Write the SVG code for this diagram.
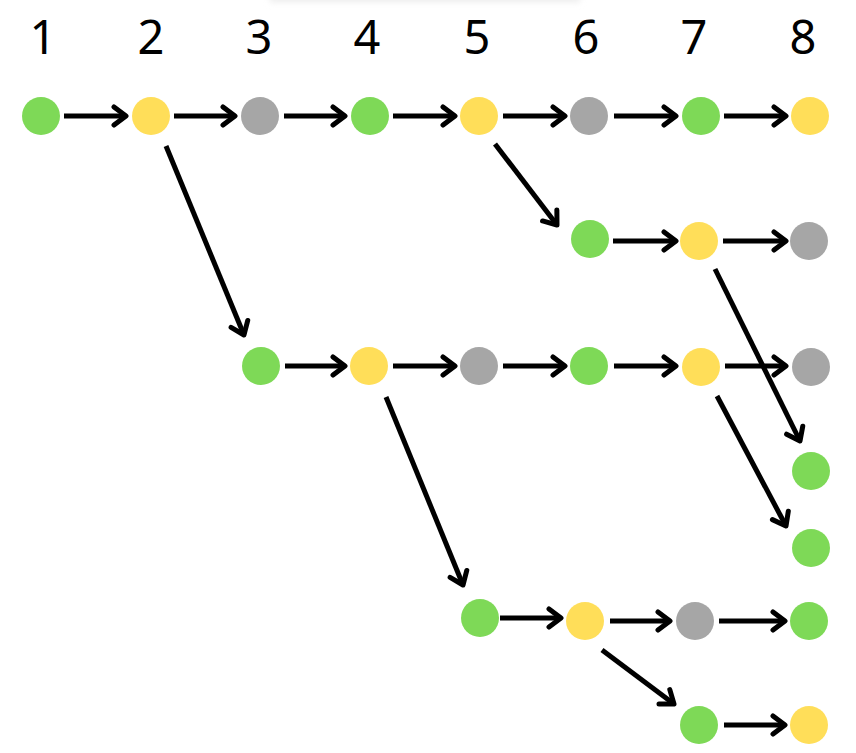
<svg xmlns="http://www.w3.org/2000/svg" width="856" height="753" viewBox="0 0 856 753">
<style>
.g{fill:#7ed957}.y{fill:#ffde59}.k{fill:#a6a6a6}
.lbl{font-family:"Noto Sans","Open Sans",sans-serif;font-size:47px;fill:#000;text-anchor:middle}
.e line{stroke:#000;stroke-width:5;marker-end:url(#ah)}
</style>
<defs>
<marker id="ah" markerUnits="userSpaceOnUse" markerWidth="24" markerHeight="24" viewBox="0 0 24 24" refX="17" refY="12" orient="auto">
<path d="M5,3 L17,12 L5,21" fill="none" stroke="#000" stroke-width="5" stroke-linecap="round" stroke-linejoin="round"/>
</marker>
<filter id="blur" x="-20%" y="-200%" width="140%" height="500%"><feGaussianBlur stdDeviation="3"/></filter>
</defs>
<rect x="0" y="0" width="856" height="753" fill="#fff"/>
<rect x="270" y="-10" width="310" height="12" fill="#ececec" filter="url(#blur)"/>
<g id="labels">
<text class="lbl" x="43" y="54">1</text>
<text class="lbl" x="151" y="54">2</text>
<text class="lbl" x="259" y="54">3</text>
<text class="lbl" x="367" y="54">4</text>
<text class="lbl" x="477" y="54">5</text>
<text class="lbl" x="586" y="54">6</text>
<text class="lbl" x="694" y="54">7</text>
<text class="lbl" x="803" y="54">8</text>
</g>
<g id="connectors" class="e">
<line x1="64" y1="116" x2="126" y2="116"/>
<line x1="174" y1="116" x2="235" y2="116"/>
<line x1="284" y1="116" x2="345" y2="116"/>
<line x1="393" y1="116" x2="455" y2="116"/>
<line x1="503" y1="116" x2="565" y2="116"/>
<line x1="614" y1="116" x2="676" y2="116"/>
<line x1="724" y1="116" x2="786" y2="116"/>
<line x1="166" y1="146" x2="244" y2="335"/>
<line x1="495" y1="144" x2="557" y2="225"/>
<line x1="613" y1="241" x2="676" y2="241"/>
<line x1="723" y1="241" x2="786" y2="241"/>
<line x1="715" y1="269" x2="800" y2="441"/>
<line x1="285" y1="366" x2="345" y2="366"/>
<line x1="393" y1="366" x2="455" y2="366"/>
<line x1="503" y1="366" x2="565" y2="366"/>
<line x1="614" y1="366" x2="676" y2="366"/>
<line x1="725" y1="366" x2="786" y2="366"/>
<line x1="717" y1="396" x2="786" y2="526"/>
<line x1="386" y1="397" x2="463" y2="585"/>
<line x1="500" y1="618" x2="561" y2="618"/>
<line x1="610" y1="621" x2="670" y2="621"/>
<line x1="719" y1="621" x2="785" y2="621"/>
<line x1="602" y1="650" x2="674" y2="704"/>
<line x1="724" y1="725" x2="785" y2="725"/>
</g>
<g id="n1"><circle class="g" cx="41" cy="116" r="19"/></g>
<g id="n2"><circle class="y" cx="151" cy="116" r="19"/></g>
<g id="n3"><circle class="k" cx="260" cy="116" r="19"/></g>
<g id="n4"><circle class="g" cx="370" cy="116" r="19"/></g>
<g id="n5"><circle class="y" cx="479" cy="116" r="19"/></g>
<g id="n6"><circle class="k" cx="589" cy="116" r="19"/></g>
<g id="n7"><circle class="g" cx="701" cy="116" r="19"/></g>
<g id="n8"><circle class="y" cx="810" cy="116" r="19"/></g>
<g id="r2a"><circle class="g" cx="590" cy="239" r="19"/></g>
<g id="r2b"><circle class="y" cx="699" cy="241" r="19"/></g>
<g id="r2c"><circle class="k" cx="809" cy="241" r="19"/></g>
<g id="r3a"><circle class="g" cx="261" cy="366" r="19"/></g>
<g id="r3b"><circle class="y" cx="369" cy="366" r="19"/></g>
<g id="r3c"><circle class="k" cx="479" cy="366" r="19"/></g>
<g id="r3d"><circle class="g" cx="589" cy="366" r="19"/></g>
<g id="r3e"><circle class="y" cx="701" cy="367" r="19"/></g>
<g id="r3f"><circle class="k" cx="811" cy="367" r="19"/></g>
<g id="r3g"><circle class="g" cx="811" cy="471" r="19"/></g>
<g id="r3h"><circle class="g" cx="811" cy="548" r="19"/></g>
<g id="r4a"><circle class="g" cx="480" cy="618" r="19"/></g>
<g id="r4b"><circle class="y" cx="585" cy="621" r="19"/></g>
<g id="r4c"><circle class="k" cx="695" cy="621" r="19"/></g>
<g id="r4d"><circle class="g" cx="809" cy="621" r="19"/></g>
<g id="r5a"><circle class="g" cx="699" cy="725" r="19"/></g>
<g id="r5b"><circle class="y" cx="809" cy="725" r="19"/></g>
</svg>
